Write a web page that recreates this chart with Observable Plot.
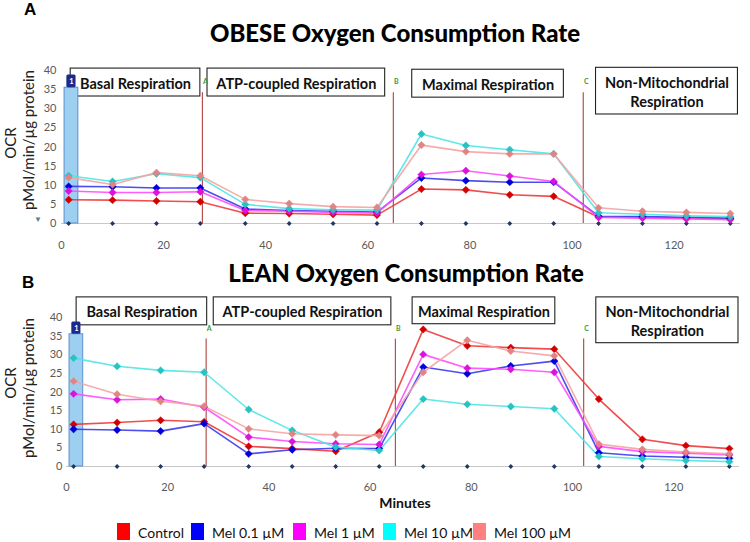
<!DOCTYPE html>
<html><head><meta charset="utf-8">
<script src="https://cdn.jsdelivr.net/npm/d3@7"></script>
<script src="https://cdn.jsdelivr.net/npm/@observablehq/plot@0.6"></script>
<style>
body{margin:0;background:#fff;font-family:Lato,"Open Sans",sans-serif;}
#wrap{position:relative;width:750px;height:542px;overflow:hidden;background:#fff;}
.abs{position:absolute;white-space:nowrap;}
.rot{transform:translate(-50%,-50%) rotate(-90deg);font-size:15px;color:#222;}
.title{transform:translateX(-50%);font-weight:900;font-size:24px;line-height:24px;color:#000;}
.letter{font-family:"Liberation Sans",Arial,sans-serif;font-weight:bold;font-size:17px;line-height:18px;}
.sw{width:13px;height:17px;}
.lt{font-size:14px;color:#111;transform:translateY(-50%);}
</style></head><body><div id="wrap"></div>
<script>
// ---- data ----
const minutes = [1.4, 10, 18.6, 27.2, 36, 44.6, 53.2, 61.8, 70.5, 79.2, 87.8, 96.4, 105.2, 113.8, 122.4, 131];
const groups = ["Control", "Mel 0.1 µM", "Mel 1 µM", "Mel 10 µM", "Mel 100 µM"];
const legendColors = ["#ff0000", "#0000ff", "#ff00ff", "#00ffff", "#ff8080"];
const lineColors = ["#ee3b3b", "#3b3bee", "#ff4dff", "#4de6e6", "#f5a3a3"];
const markerColors = ["#d40000", "#0000dd", "#dd11dd", "#22c4c4", "#e08585"];

const obeseControl = [6.2, 6.1, 5.9, 5.7, 2.7, 2.6, 2.4, 2.2, 9.0, 8.8, 7.5, 7.1, 1.7, 1.6, 1.4, 1.2];
const obeseMel01   = [9.7, 9.6, 9.3, 9.3, 3.8, 3.4, 3.2, 3.0, 11.9, 11.2, 10.8, 10.8, 1.9, 1.8, 1.6, 1.4];
const obeseMel1    = [8.5, 8.1, 8.1, 8.3, 3.4, 3.2, 2.9, 2.7, 12.8, 13.8, 12.4, 11.0, 1.6, 1.4, 1.2, 1.0];
const obeseMel10   = [12.5, 11.0, 13.0, 12.0, 5.0, 3.9, 3.6, 3.5, 23.4, 20.4, 19.3, 18.2, 2.8, 2.4, 2.0, 1.8];
const obeseMel100  = [12.0, 10.2, 13.3, 12.5, 6.3, 5.2, 4.4, 4.2, 20.5, 18.8, 18.2, 18.2, 4.1, 3.2, 2.9, 2.6];

const leanControl = [11.3, 11.8, 12.4, 12.0, 5.4, 4.8, 4.1, 9.2, 36.8, 32.4, 31.9, 31.5, 18.1, 7.3, 5.6, 4.8];
const leanMel01   = [10.0, 9.8, 9.5, 11.5, 3.4, 4.5, 4.9, 4.8, 26.7, 24.9, 27.0, 28.3, 3.7, 2.8, 2.5, 2.2];
const leanMel1    = [19.5, 17.9, 18.1, 15.9, 7.9, 6.7, 6.1, 5.9, 30.1, 26.4, 26.1, 25.3, 5.4, 4.0, 3.6, 3.1];
const leanMel10   = [29.1, 26.9, 25.8, 25.3, 15.3, 9.7, 5.2, 4.3, 18.1, 16.7, 16.1, 15.5, 2.7, 2.1, 1.6, 1.3];
const leanMel100  = [22.9, 19.4, 17.5, 16.2, 10.1, 8.8, 8.5, 8.3, 25.3, 33.9, 31.0, 29.7, 6.0, 4.6, 3.9, 3.4];

const backgroundWells = [0, 0, 0, 0, 0, 0, 0, 0, 0, 0, 0, 0, 0, 0, 0, 0];

const injectionLabels = ["A", "B", "C"];
const injectionMinutes = [27.6, 65, 102.2];

const phaseLabels = ["Basal Respiration", "ATP-coupled Respiration", "Maximal Respiration", "Non-Mitochondrial\nRespiration"];
const phaseStartObese = [1.8, 28.6, 68.7, 104.7];
const phaseEndObese   = [27.2, 63.4, 98.4, 132.5];
const phaseTopObese   = [40.5, 40.5, 40.2, 40.7];
const phaseBottomObese = [33.2, 33.2, 32.9, 28.5];
const phaseStartLean = [2.0, 29.1, 68.4, 104.7];
const phaseEndLean   = [27.8, 64.2, 96.6, 132.8];
const phaseTopLean   = [45.4, 45.4, 45.4, 45.4];
const phaseBottomLean = [37.9, 37.9, 38.2, 33.1];

const measureWindow = [0.6, 3.3];
const xTicks = [0, 20, 40, 60, 80, 100, 120];
const yTicks = [0, 5, 10, 15, 20, 25, 30, 35, 40];

// ---- drawing ----
const wrap = document.getElementById("wrap");
function addDiv(html, cls, css) {
  const d = document.createElement("div");
  d.className = "abs " + (cls || "");
  d.innerHTML = html;
  Object.assign(d.style, css);
  wrap.appendChild(d);
  return d;
}

function panel(series, phase, m) {
  const phases = phaseLabels.map((t, i) => ({t, x1: phase.start[i], x2: phase.end[i], y1: phase.bottom[i], y2: phase.top[i]}));
  const inj = injectionLabels.map((t, i) => ({t, x: injectionMinutes[i]}));
  const marks = [
    Plot.ruleY([0], {stroke: "#c8c8c8", strokeWidth: 1.2}),
    Plot.rect(phases, {x1: "x1", x2: "x2", y1: "y1", y2: "y2", fill: "white", stroke: "#222", strokeWidth: 1.1}),
    Plot.rect([measureWindow], {x1: d => d[0], x2: d => d[1], y1: 0, y2: 35.5, fill: "#9dd0f0", stroke: "#5b8fd0", strokeWidth: 1}),
    Plot.rect([measureWindow], {x1: d => d[0] + 0.45, x2: d => d[1] - 0.45, y1: 35.5, y2: 38.8, fill: "#1b2a8a", rx: 1.5}),
    Plot.text([measureWindow], {x: d => (d[0] + d[1]) / 2, y: 37.1, text: () => "1", fill: "white", fontSize: 7.5, fontWeight: "bold"}),
    Plot.text(phases, {x: d => (d.x1 + d.x2) / 2, y: d => (d.y1 + d.y2) / 2, text: "t", fontSize: 14.5, fontWeight: "bold", fill: "#111", lineHeight: 1.3}),
    Plot.ruleX(inj, {x: "x", y1: 0, y2: 34.2, stroke: "#b5514e", strokeWidth: 1.2}),
    Plot.text(inj, {x: "x", y: 37, text: "t", fill: "#3a9a3a", fontSize: 7, fontWeight: "bold", dx: 3}),
    Plot.dot(minutes, {x: d => d, y: (d, i) => backgroundWells[i], symbol: "diamond2", r: 2.2, fill: "#1f3864"})
  ];
  series.forEach((vals, gi) => {
    marks.push(Plot.line(minutes, {x: d => d, y: (d, i) => vals[i], stroke: lineColors[gi], strokeWidth: 1.6, strokeOpacity: 0.9}));
  });
  series.forEach((vals, gi) => {
    marks.push(Plot.dot(minutes, {x: d => d, y: (d, i) => vals[i], symbol: "diamond2", r: 3.3, fill: markerColors[gi], stroke: markerColors[gi], strokeWidth: 0.5}));
  });
  return Plot.plot({
    width: 750, height: m.height,
    marginLeft: m.left, marginRight: m.right, marginTop: m.top, marginBottom: m.bottom,
    x: {domain: [0, 133], ticks: xTicks, tickSize: 0, tickPadding: m.xpad, label: null},
    y: {domain: [0, 40], ticks: yTicks, tickSize: 0, tickPadding: m.ypad, label: null},
    style: {fontFamily: "Lato, sans-serif", fontSize: "11px", color: "#595959", background: "transparent", overflow: "visible"},
    marks
  });
}

const svgA = panel([obeseControl, obeseMel01, obeseMel1, obeseMel10, obeseMel100],
  {start: phaseStartObese, end: phaseEndObese, top: phaseTopObese, bottom: phaseBottomObese},
  {height: 193, left: 61, right: 10, top: 10, bottom: 30, xpad: 18, ypad: 5});
svgA.style.position = "absolute"; svgA.style.left = "0px"; svgA.style.top = "60px";
wrap.appendChild(svgA);

const svgB = panel([leanControl, leanMel01, leanMel1, leanMel10, leanMel100],
  {start: phaseStartLean, end: phaseEndLean, top: phaseTopLean, bottom: phaseBottomLean},
  {height: 206, left: 66, right: 11, top: 27, bottom: 30, xpad: 17, ypad: 4});
svgB.style.position = "absolute"; svgB.style.left = "0px"; svgB.style.top = "290px";
wrap.appendChild(svgB);

// titles and labels
addDiv("A", "letter", {left: "24px", top: "1px"});
addDiv("B", "letter", {left: "22px", top: "274px"});
addDiv("OBESE Oxygen Consumption Rate", "title", {left: "395px", top: "21px"});
addDiv("LEAN Oxygen Consumption Rate", "title", {left: "406px", top: "261px"});
addDiv("OCR", "rot", {left: "10px", top: "143px"});
addDiv("pMol/min/µg protein", "rot", {left: "28px", top: "140px"});
addDiv("OCR", "rot", {left: "10px", top: "383px"});
addDiv("pMol/min/µg protein", "rot", {left: "28px", top: "388px"});
addDiv("▼", "", {left: "34px", top: "214px", fontSize: "8px", color: "#607d8b"});
addDiv("Minutes", "", {left: "405px", top: "502px", transform: "translate(-50%,-50%)", fontWeight: "bold", fontSize: "14px", color: "#111"});

// legend
const legendLeft = [117, 191, 293, 383, 473];
groups.forEach((g, i) => {
  addDiv("", "sw", {left: legendLeft[i] + "px", top: "523px", background: legendColors[i]});
  addDiv(g, "lt", {left: (legendLeft[i] + 21) + "px", top: "532px"});
});
</script></body></html>
